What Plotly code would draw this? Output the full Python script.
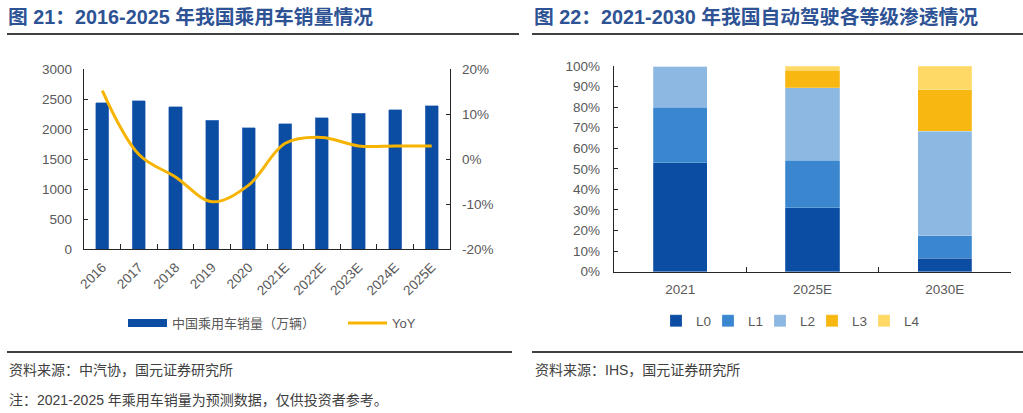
import plotly.graph_objects as go

# ---------------- data ----------------
years = ["2016", "2017", "2018", "2019", "2020", "2021E", "2022E", "2023E", "2024E", "2025E"]
sales = [2440, 2472, 2371, 2148, 2020, 2088, 2188, 2261, 2322, 2388]      # 万辆
yoy = [15.2, 1.0, -4.0, -9.5, -5.8, 3.5, 4.8, 2.9, 2.9, 2.9]              # %

yoy_tickvals = [-20, -10, 0, 10, 20]
yoy_ticktext = ["-20%", "-10%", "0%", "10%", "20%"]

periods = ["2021", "2025E", "2030E"]
levels = ["L0", "L1", "L2", "L3", "L4"]
l0 = [53.0, 31.0, 6.5]
l1 = [27.0, 23.3, 11.0]
l2 = [20.0, 35.2, 50.9]
l3 = [0.0, 8.5, 20.1]
l4 = [0.0, 2.0, 11.5]

# ---------------- style ----------------
W, H = 1023, 413
def X(p): return p / W
def Y(p): return 1 - p / H

BAR = "#0B4DA2"
GOLD = "#F6B400"
LEVEL_COLORS = ["#0B4DA2", "#3A87D0", "#8DB8E2", "#F8B711", "#FFD966"]
AX = "#262626"
TICKF = dict(family="Liberation Sans, Arial, Noto Sans CJK SC", size=13.5, color="#595959")
CJK = "Liberation Sans, Arial, Noto Sans CJK SC"

fig = go.Figure()

# left chart
fig.add_trace(go.Bar(x=years, y=sales, name="中国乘用车销量（万辆）", marker_color=BAR,
                     marker_line=dict(color="#5F8BC8", width=0.6),
                     width=0.36, xaxis="x", yaxis="y", showlegend=False))
fig.add_trace(go.Scatter(x=[None], y=[None], mode="lines", name="中国乘用车销量（万辆）",
                         line=dict(color=BAR, width=8), xaxis="x", yaxis="y", legend="legend"))
fig.add_trace(go.Scatter(x=years, y=yoy, mode="lines", name="YoY",
                         line=dict(color=GOLD, width=3, shape="spline", smoothing=1),
                         xaxis="x", yaxis="y2", legend="legend"))

# right chart
for name, vals, col in zip(levels, [l0, l1, l2, l3, l4], LEVEL_COLORS):
    fig.add_trace(go.Bar(x=periods, y=vals, name=name, marker_color=col, width=0.41,
                         marker_line=dict(color="rgba(255,255,255,0.35)", width=0.6),
                         xaxis="x2", yaxis="y3", legend="legend2"))
# invisible spacer so the last legend label is not clipped
fig.add_trace(go.Scatter(x=[None], y=[None], mode="lines", name=" ",
                         line=dict(color="rgba(0,0,0,0)", width=0),
                         xaxis="x2", yaxis="y3", legend="legend2"))

axis_common = dict(showline=True, linecolor=AX, linewidth=1.4, ticks="inside",
                   tickcolor=AX, tickwidth=1.2, showgrid=False, zeroline=False,
                   tickfont=TICKF, fixedrange=True, automargin=False)

fig.update_layout(
    width=W, height=H,
    margin=dict(l=0, r=0, t=0, b=0, autoexpand=False),
    paper_bgcolor="white", plot_bgcolor="white",
    barmode="stack", hovermode=False,
    xaxis=dict(domain=[X(84), X(450)], anchor="y", type="category", range=[-0.5, 9.5],
               tickson="boundaries", ticklen=5, tickangle=-45, ticklabelstandoff=4, **axis_common),
    yaxis=dict(domain=[Y(249), Y(69)], anchor="x", range=[0, 3000], dtick=500, ticklen=4,
               ticklabelstandoff=8, **axis_common),
    yaxis2=dict(overlaying="y", side="right", anchor="x", range=[-20, 20],
                tickvals=yoy_tickvals, ticktext=yoy_ticktext, ticklen=4,
                ticklabelstandoff=8, **axis_common),
    xaxis2=dict(domain=[X(614), X(1011)], anchor="y3", type="category", range=[-0.5, 2.5],
                tickson="boundaries", ticklen=5, ticklabelstandoff=5, **axis_common),
    yaxis3=dict(domain=[Y(271.7), Y(66)], anchor="x2", range=[0, 100], dtick=10,
                ticksuffix="%", ticklen=4, ticklabelstandoff=10, **axis_common),
    legend=dict(orientation="h", x=X(123), y=Y(323), xanchor="left", yanchor="middle",
                traceorder="normal",
                itemwidth=39, entrywidth=166, entrywidthmode="pixels",
                font=dict(family=CJK, size=13, color="#595959"), bgcolor="rgba(0,0,0,0)"),
    legend2=dict(orientation="h", x=X(656), y=Y(321), xanchor="left", yanchor="middle",
                 traceorder="normal",
                 entrywidth=7, entrywidthmode="pixels",
                 font=dict(family=CJK, size=13.5, color="#595959"), bgcolor="rgba(0,0,0,0)"),
    showlegend=True,
)

# titles
TITLE_F = dict(family=CJK, size=19.8, color="#2E5395")
fig.add_annotation(text="<b>图 21：2016-2025 年我国乘用车销量情况</b>", x=X(6), y=Y(17),
                   xref="paper", yref="paper", xanchor="left", yanchor="middle",
                   showarrow=False, font=TITLE_F)
fig.add_annotation(text="<b>图 22：2021-2030 年我国自动驾驶各等级渗透情况</b>", x=X(532), y=Y(17),
                   xref="paper", yref="paper", xanchor="left", yanchor="middle",
                   showarrow=False, font=TITLE_F)

# footers
FOOT_F = dict(family=CJK, size=14, color="#404040")
fig.add_annotation(text="资料来源：中汽协，国元证券研究所", x=X(7), y=Y(370),
                   xref="paper", yref="paper", xanchor="left", yanchor="middle",
                   showarrow=False, font=FOOT_F)
fig.add_annotation(text="注：2021-2025 年乘用车销量为预测数据，仅供投资者参考。", x=X(7), y=Y(400),
                   xref="paper", yref="paper", xanchor="left", yanchor="middle",
                   showarrow=False, font=FOOT_F)
fig.add_annotation(text="资料来源：IHS，国元证券研究所", x=X(533), y=Y(370),
                   xref="paper", yref="paper", xanchor="left", yanchor="middle",
                   showarrow=False, font=FOOT_F)

# rules
for (x0, x1, yy) in [(7, 519, 34), (532, 1023, 34), (7, 512, 352), (532, 1023, 352)]:
    fig.add_shape(type="line", xref="paper", yref="paper", x0=X(x0), x1=X(x1), y0=Y(yy), y1=Y(yy),
                  line=dict(color="#000000", width=1.6))

fig.write_html("out.html", config={"displayModeBar": False, "staticPlot": False},
               post_script="document.body.style.margin='0';document.body.style.overflow='hidden';")
